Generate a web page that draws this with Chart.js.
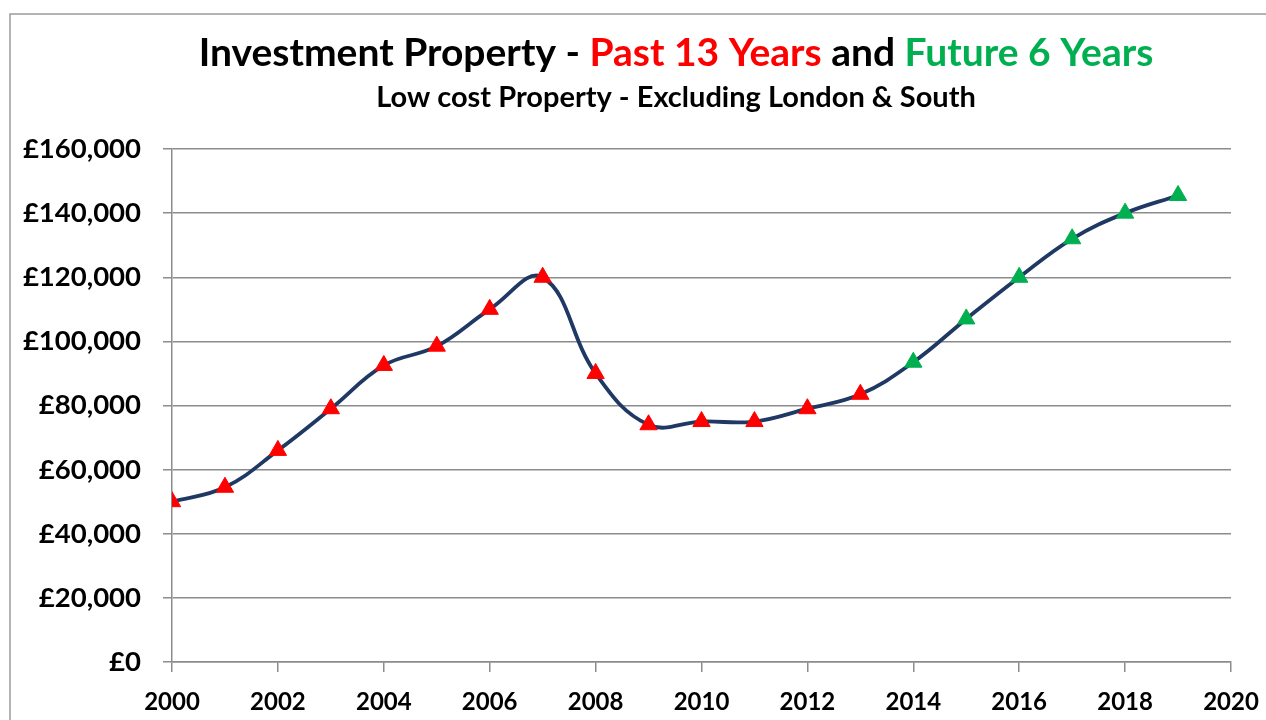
<!DOCTYPE html>
<html>
<head>
<meta charset="utf-8">
<script src="https://cdn.jsdelivr.net/npm/chart.js@4.4.1/dist/chart.umd.min.js"></script>
<style>
  html, body { margin: 0; padding: 0; background: #ffffff; }
  #wrap { position: relative; width: 1266px; height: 720px; }
</style>
</head>
<body>
<div id="wrap"><canvas id="c" width="1266" height="720"></canvas></div>
<script>
// ---- Data ----
const years = [2000, 2001, 2002, 2003, 2004, 2005, 2006, 2007, 2008, 2009,
               2010, 2011, 2012, 2013, 2014, 2015, 2016, 2017, 2018, 2019];
const prices = [50000, 54500, 66000, 79000, 92500, 98500, 110000, 120000, 90000, 74000,
                75000, 75000, 79000, 83500, 93500, 107000, 120000, 132000, 140000, 145500];
const lastPastYear = 2013;
const xTickLabels = ['2000', '2002', '2004', '2006', '2008', '2010', '2012', '2014', '2016', '2018', '2020'];
const yTickValues = [0, 20000, 40000, 60000, 80000, 100000, 120000, 140000, 160000];

const titleParts = [
  { text: 'Investment Property - ', color: '#000000' },
  { text: 'Past 13 Years', color: '#FF0000' },
  { text: ' and ', color: '#000000' },
  { text: 'Future 6 Years', color: '#00B050' }
];
const subtitleText = 'Low cost Property - Excluding London & South';

const RED = '#FF0000', GREEN = '#00B050';
const pointColors = years.map(y => y <= lastPastYear ? RED : GREEN);
const points = years.map((y, i) => ({ x: y, y: prices[i] }));

const FONT = 'Lato, "Open Sans", "DejaVu Sans", sans-serif';
const GRID = '#8c8c8c';

const titlePlugin = {
  id: 'multiTitle',
  beforeDraw(chart) {
    const ctx = chart.ctx;
    ctx.save();
    ctx.fillStyle = '#ffffff';
    ctx.fillRect(0, 0, chart.width, chart.height);
    // outer frame (worksheet edge)
    ctx.strokeStyle = '#9a9a9a';
    ctx.lineWidth = 1.5;
    ctx.beginPath();
    ctx.moveTo(10, 720); ctx.lineTo(10, 14); ctx.lineTo(1266, 14);
    ctx.stroke();
    ctx.restore();
  },
  afterDraw(chart) {
    const ctx = chart.ctx;
    const cx = 676;
    ctx.save();
    ctx.textBaseline = 'alphabetic';
    ctx.textAlign = 'left';
    ctx.font = 'bold 39px ' + FONT;
    const total = titleParts.reduce((s, p) => s + ctx.measureText(p.text).width, 0);
    let x = cx - total / 2;
    titleParts.forEach(p => {
      ctx.fillStyle = p.color;
      ctx.fillText(p.text, x, 66);
      x += ctx.measureText(p.text).width;
    });
    ctx.font = 'bold 29px ' + FONT;
    ctx.fillStyle = '#000000';
    ctx.textAlign = 'center';
    ctx.fillText(subtitleText, cx, 107);
    ctx.restore();
  }
};

new Chart(document.getElementById('c'), {
  type: 'line',
  data: {
    datasets: [{
      data: points,
      borderColor: '#1F3864',
      borderWidth: 3.8,
      tension: 0.4,
      fill: false,
      pointStyle: 'triangle',
      pointRadius: 10,
      pointHoverRadius: 10,
      pointBackgroundColor: pointColors,
      pointBorderColor: pointColors,
      pointBorderWidth: 1
    }]
  },
  options: {
    responsive: false,
    animation: false,
    events: [],
    layout: { padding: { top: 149, right: 35, bottom: 0, left: 0 } },
    plugins: { legend: { display: false }, tooltip: { enabled: false }, title: { display: false } },
    scales: {
      x: {
        type: 'linear',
        min: 2000, max: 2020,
        afterFit(scale) { scale.height = 58; scale.paddingRight = 0; scale.paddingLeft = 0; },
        afterBuildTicks(scale) {
          scale.ticks = xTickLabels.map(t => ({ value: Number(t) }));
        },
        ticks: {
          stepSize: 2,
          autoSkip: false,
          maxRotation: 0,
          padding: 16,
          color: '#000000',
          font: { family: FONT, size: 24, weight: 'bold' },
          callback: (v) => { const s = String(v); return xTickLabels.includes(s) ? s : ''; }
        },
        grid: { drawOnChartArea: false, drawTicks: true, tickLength: 10, color: GRID, lineWidth: 1.5 },
        border: { display: true, color: GRID, width: 1.5 }
      },
      y: {
        min: 0, max: 160000,
        afterFit(scale) { scale.width = 172; scale.paddingTop = 0; scale.paddingBottom = 0; },
        afterBuildTicks(scale) {
          scale.ticks = yTickValues.map(v => ({ value: v }));
        },
        ticks: {
          padding: 22,
          color: '#000000',
          font: { family: FONT, size: 27.5, weight: 'bold' },
          callback: (v) => '£' + Number(v).toLocaleString('en-GB')
        },
        grid: { drawOnChartArea: true, drawTicks: true, tickLength: 9, color: GRID, lineWidth: 1.5 },
        border: { display: true, color: GRID, width: 1.5 }
      }
    }
  },
  plugins: [titlePlugin]
});
</script>
</body>
</html>
